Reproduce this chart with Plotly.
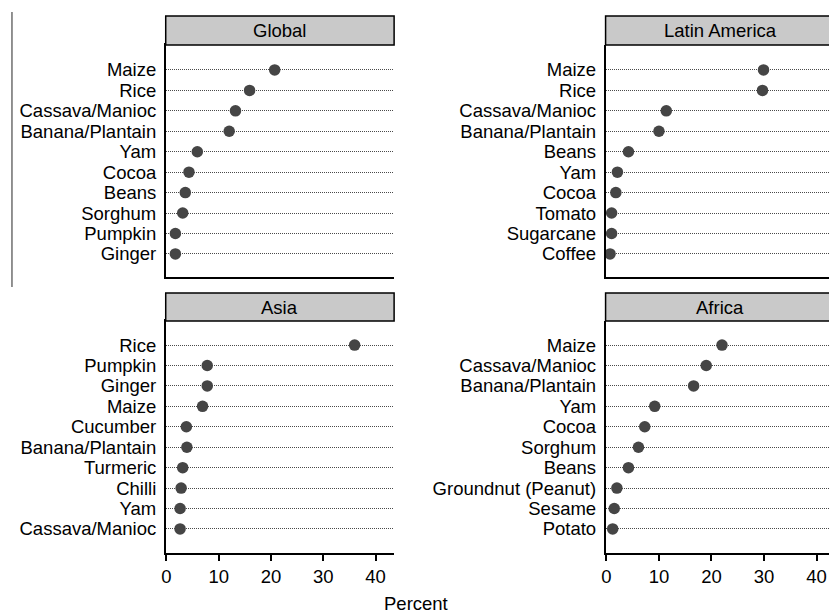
import plotly.graph_objects as go

# ---- data ----
global_crops = ["Maize", "Rice", "Cassava/Manioc", "Banana/Plantain", "Yam", "Cocoa",
                "Beans", "Sorghum", "Pumpkin", "Ginger"]
global_pct = [20.7, 15.9, 13.2, 12.0, 5.9, 4.3, 3.6, 3.1, 1.7, 1.7]

latam_crops = ["Maize", "Rice", "Cassava/Manioc", "Banana/Plantain", "Beans", "Yam",
               "Cocoa", "Tomato", "Sugarcane", "Coffee"]
latam_pct = [29.9, 29.7, 11.4, 10.0, 4.2, 2.1, 1.8, 1.0, 1.0, 0.7]

asia_crops = ["Rice", "Pumpkin", "Ginger", "Maize", "Cucumber", "Banana/Plantain",
              "Turmeric", "Chilli", "Yam", "Cassava/Manioc"]
asia_pct = [36.0, 7.8, 7.8, 6.9, 3.8, 3.9, 3.1, 2.8, 2.6, 2.6]

africa_crops = ["Maize", "Cassava/Manioc", "Banana/Plantain", "Yam", "Cocoa", "Sorghum",
                "Beans", "Groundnut (Peanut)", "Sesame", "Potato"]
africa_pct = [22.0, 19.0, 16.6, 9.2, 7.3, 6.1, 4.2, 2.0, 1.5, 1.2]

x_ticks = [0, 10, 20, 30, 40]
x_title = "Percent"

W, H = 829, 615
FONT = "Liberation Sans, Arial, Helvetica, sans-serif"
FS = 18.5
DOT = "#454545"

def px_x(p):
    return p / W

def px_y(p):
    return 1 - p / H

panels = [
    dict(title="Global", crops=global_crops, vals=global_pct, x=(162.5, 392), y=(45, 277), st=16,
         xr=[-0.15, 43.56], yr=[10.13, -1.22], bottom=False, right=False),
    dict(title="Latin America", crops=latam_crops, vals=latam_pct, x=(604.5, 834.5), y=(45, 277), st=16,
         xr=[-0.15, 43.4], yr=[10.13, -1.22], bottom=False, right=True),
    dict(title="Asia", crops=asia_crops, vals=asia_pct, x=(162.5, 392), y=(321, 553), st=293,
         xr=[-0.15, 43.56], yr=[10.18, -1.18], bottom=True, right=False),
    dict(title="Africa", crops=africa_crops, vals=africa_pct, x=(604.5, 834.5), y=(321, 553), st=293,
         xr=[-0.15, 43.4], yr=[10.18, -1.18], bottom=True, right=True),
]

fig = go.Figure()
shapes = []
annotations = []
layout = {}

for i, p in enumerate(panels, start=1):
    xa = "x" if i == 1 else f"x{i}"
    ya = "y" if i == 1 else f"y{i}"
    pos = list(range(len(p["crops"])))
    fig.add_trace(go.Scatter(
        x=p["vals"], y=pos, mode="markers", xaxis=xa, yaxis=ya,
        marker=dict(size=11.5, color=DOT), showlegend=False, cliponaxis=False,
    ))
    x0, x1 = p["x"]
    y0, y1 = p["y"]
    dom_x = [px_x(x0), min(1.0, px_x(x1))]
    xr = list(p["xr"])
    if x1 > W:
        scale = (x1 - x0) / (xr[1] - xr[0])
        xr[1] = xr[0] + (W - x0) / scale
    layout["xaxis" if i == 1 else f"xaxis{i}"] = dict(
        domain=dom_x, range=xr, anchor=ya,
        showgrid=False, zeroline=False,
        showline=True, linecolor="black", linewidth=1.5,
        mirror=False if p["right"] else True,
        tickvals=x_ticks, ticktext=[str(t) for t in x_ticks],
        ticks="outside" if p["bottom"] else "", ticklen=6, tickwidth=1.5, tickcolor="black",
        showticklabels=p["bottom"],
        tickfont=dict(family=FONT, size=FS, color="black"),
    )
    layout["yaxis" if i == 1 else f"yaxis{i}"] = dict(
        domain=[px_y(y1), px_y(y0)], range=p["yr"], anchor=xa,
        tickvals=pos, ticktext=p["crops"],
        showgrid=True, gridcolor="#4a4a4a", gridwidth=1.2, griddash="1px,1px",
        zeroline=False, showline=True, linecolor="black", linewidth=1.5,
        mirror=False,
        ticks="outside", ticklen=4, tickcolor="rgba(0,0,0,0)",
        tickfont=dict(family=FONT, size=FS, color="black"),
    )
    shapes.append(dict(type="rect", xref="paper", yref="paper",
                       x0=px_x(x0), x1=px_x(x1), y0=px_y(y0), y1=px_y(p["st"]),
                       fillcolor="#c9c9c9", line=dict(color="black", width=1.5), layer="above"))
    annotations.append(dict(text=p["title"], xref="paper", yref="paper",
                            x=px_x((x0 + x1) / 2), y=px_y((y0 + p["st"]) / 2),
                            xanchor="center", yanchor="middle", showarrow=False,
                            font=dict(family=FONT, size=FS, color="black")))

shapes.append(dict(type="line", xref="paper", yref="paper",
                   x0=px_x(8), x1=px_x(8), y0=px_y(12), y1=px_y(287),
                   line=dict(color="#6e6e6e", width=1.5)))

annotations.append(dict(text=x_title, xref="paper", yref="paper",
                        x=px_x(414), y=px_y(603), xanchor="center", yanchor="middle",
                        showarrow=False, font=dict(family=FONT, size=FS, color="black")))

fig.update_layout(
    width=W, height=H, margin=dict(l=0, r=0, t=0, b=0),
    paper_bgcolor="white", plot_bgcolor="white",
    shapes=shapes, annotations=annotations, **layout,
)

fig.write_html("out.html", include_plotlyjs=True, config={"displayModeBar": False},
               post_script="document.body.style.margin='0';document.body.style.overflow='hidden';")
